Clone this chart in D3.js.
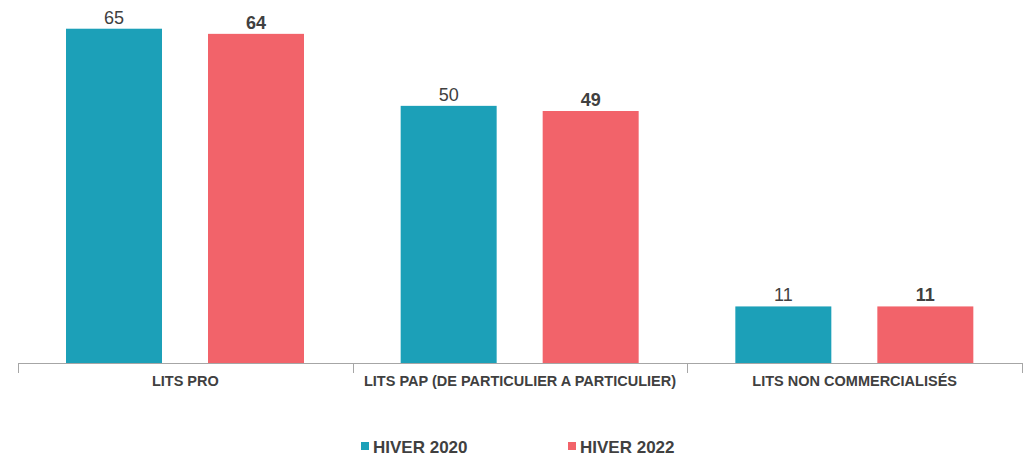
<!DOCTYPE html>
<html>
<head>
<meta charset="utf-8">
<script src="https://cdn.jsdelivr.net/npm/d3@7"></script>
<style>
  body { margin: 0; background: #fff; }
  text { font-family: "Liberation Sans", Arial, sans-serif; }
</style>
</head>
<body>
<script>
var categories = ["LITS PRO", "LITS PAP (DE PARTICULIER A PARTICULIER)", "LITS NON COMMERCIALISÉS"];
var seriesNames = ["HIVER 2020", "HIVER 2022"];
var hiver2020 = [65, 50, 11];
var hiver2022 = [64, 49, 11];
var colors = ["#1ca0b8", "#f2636a"];

var width = 1029, height = 457;
var left = 18, right = 1022, base = 363;

var svg = d3.select("body").append("svg")
    .attr("width", width)
    .attr("height", height);

var x0 = d3.scaleBand().domain(categories).range([left, right]).paddingInner(0).paddingOuter(0);
var x1 = d3.scaleBand().domain(seriesNames).range([48, 286]).paddingInner(0.324);
var y = d3.scaleLinear().domain([0, 70]).range([base, 3]);

var data = categories.map(function(c, i) {
  return {cat: c, vals: [
    {s: seriesNames[0], v: hiver2020[i], bold: false},
    {s: seriesNames[1], v: hiver2022[i], bold: true}
  ]};
});

var groups = svg.selectAll(".grp")
    .data(data)
  .enter().append("g")
    .attr("class", "grp")
    .attr("transform", function(d) { return "translate(" + x0(d.cat) + ",0)"; });

groups.selectAll("rect")
    .data(function(d) { return d.vals; })
  .enter().append("rect")
    .attr("x", function(d) { return x1(d.s); })
    .attr("y", function(d) { return y(d.v); })
    .attr("width", x1.bandwidth())
    .attr("height", function(d) { return base - y(d.v); })
    .style("fill", function(d, i) { return colors[i]; });

groups.selectAll(".val")
    .data(function(d) { return d.vals; })
  .enter().append("text")
    .attr("class", "val")
    .attr("x", function(d) { return x1(d.s) + x1.bandwidth() / 2; })
    .attr("y", function(d) { return y(d.v) - 5; })
    .attr("text-anchor", "middle")
    .style("font-size", "18px")
    .style("font-weight", function(d) { return d.bold ? "bold" : "normal"; })
    .style("fill", "#404040")
    .text(function(d) { return d.v; });

// x axis
var xAxis = d3.axisBottom(x0).tickSize(0).tickPadding(13);
var ax = svg.append("g")
    .attr("transform", "translate(0," + base + ")")
    .call(xAxis);
ax.select(".domain").attr("stroke", "#a6a6a6").attr("d", "M" + left + ",0.5H" + right);
ax.selectAll("text")
    .style("font-size", "14.5px")
    .style("font-weight", "bold")
    .style("fill", "#404040")
    .style("font-family", "'Liberation Sans', Arial, sans-serif");

// category separators
var seps = categories.map(function(c) { return x0(c); }).concat([right]);
svg.selectAll(".sep")
    .data(seps)
  .enter().append("line")
    .attr("x1", function(d) { return Math.round(d) + 0.5; })
    .attr("x2", function(d) { return Math.round(d) + 0.5; })
    .attr("y1", base)
    .attr("y2", base + 10)
    .attr("stroke", "#a6a6a6");

// legend
var legendX = [361, 568];
var legend = svg.selectAll(".legend")
    .data(seriesNames)
  .enter().append("g")
    .attr("class", "legend")
    .attr("transform", function(d, i) { return "translate(" + legendX[i] + ",442)"; });

legend.append("rect")
    .attr("width", 8)
    .attr("height", 8)
    .style("fill", function(d, i) { return colors[i]; });

legend.append("text")
    .attr("x", 12)
    .attr("y", 11)
    .style("font-size", "17px")
    .style("font-weight", "bold")
    .style("fill", "#404040")
    .text(function(d) { return d; });
</script>
</body>
</html>
